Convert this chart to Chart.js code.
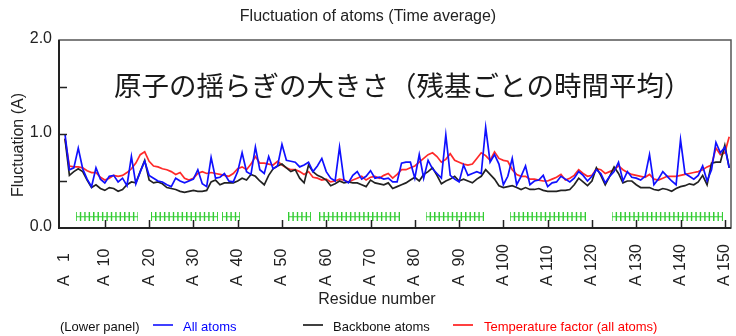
<!DOCTYPE html>
<html>
<head>
<meta charset="utf-8">
<script src="https://cdn.jsdelivr.net/npm/chart.js@4"></script>
<style>
  html, body { margin: 0; padding: 0; background: #fff; }
  canvas { display: block; }
</style>
</head>
<body>
<canvas id="myChart" width="736" height="336"></canvas>
<script>
// residue numbers 1..151 (chain A)
const residues = Array.from({ length: 151 }, (_, i) => i + 1);
const tickResidues = [1, 10, 20, 30, 40, 50, 60, 70, 80, 90, 100, 110, 120, 130, 140, 150];
const yTickLabels = [0, 1, 2];

const allAtoms = [
  1.00, 0.62, 0.64, 0.85, 0.63, 0.52, 0.44, 0.64, 0.52, 0.48,
  0.55, 0.56, 0.49, 0.53, 0.45, 0.76, 0.47, 0.60, 0.71, 0.56,
  0.53, 0.50, 0.49, 0.46, 0.44, 0.53, 0.50, 0.48, 0.50, 0.52,
  0.62, 0.47, 0.44, 0.75, 0.53, 0.54, 0.58, 0.50, 0.49, 0.60,
  0.80, 0.60, 0.57, 0.86, 0.62, 0.58, 0.76, 0.63, 0.66, 0.89,
  0.72, 0.71, 0.70, 0.65, 0.67, 0.70, 0.60, 0.66, 0.74, 0.60,
  0.53, 0.50, 0.86, 0.51, 0.48, 0.56, 0.60, 0.52, 0.55, 0.61,
  0.53, 0.54, 0.52, 0.53, 0.49, 0.49, 0.69, 0.70, 0.70, 0.53,
  0.78, 0.53, 0.72, 0.63, 0.58, 0.53, 0.99, 0.56, 0.52, 0.49,
  0.67, 0.56, 0.58, 0.60, 0.58, 1.07, 0.70, 0.78, 0.68, 0.46,
  0.55, 0.74, 0.46, 0.55, 0.66, 0.46, 0.50, 0.51, 0.56, 0.44,
  0.48, 0.49, 0.55, 0.52, 0.49, 0.53, 0.60, 0.56, 0.50, 0.55,
  0.62, 0.58, 0.48, 0.55, 0.60, 0.70, 0.50, 0.60, 0.54, 0.53,
  0.51, 0.55, 0.78, 0.46, 0.52, 0.60, 0.55, 0.50, 0.46, 0.94,
  0.58, 0.55, 0.52, 0.56, 0.66, 0.50, 0.62, 0.91, 0.80, 0.86,
  0.64
];

const backbone = [
  0.95, 0.56, 0.60, 0.63, 0.60, 0.51, 0.43, 0.46, 0.42, 0.40,
  0.43, 0.42, 0.39, 0.41, 0.46, 0.49, 0.48, 0.60, 0.72, 0.51,
  0.48, 0.49, 0.47, 0.43, 0.42, 0.41, 0.39, 0.38, 0.39, 0.40,
  0.39, 0.39, 0.40, 0.49, 0.51, 0.46, 0.48, 0.48, 0.48, 0.50,
  0.53, 0.51, 0.57, 0.55, 0.50, 0.46, 0.56, 0.63, 0.66, 0.68,
  0.64, 0.60, 0.62, 0.53, 0.48, 0.67, 0.60, 0.56, 0.54, 0.51,
  0.45, 0.47, 0.50, 0.48, 0.49, 0.48, 0.48, 0.46, 0.44, 0.51,
  0.48, 0.47, 0.46, 0.48, 0.42, 0.44, 0.46, 0.48, 0.51, 0.54,
  0.50, 0.57, 0.60, 0.64, 0.56, 0.47, 0.50, 0.52, 0.55, 0.50,
  0.52, 0.50, 0.48, 0.52, 0.55, 0.62, 0.57, 0.52, 0.45, 0.43,
  0.44, 0.45, 0.43, 0.41, 0.43, 0.41, 0.41, 0.42, 0.40, 0.39,
  0.39, 0.39, 0.40, 0.40, 0.41, 0.46, 0.53, 0.49, 0.45, 0.50,
  0.64, 0.56, 0.46, 0.55, 0.65, 0.58, 0.48, 0.50, 0.50, 0.46,
  0.43, 0.43, 0.43, 0.41, 0.40, 0.42, 0.41, 0.39, 0.42, 0.44,
  0.45, 0.47, 0.46, 0.49, 0.56, 0.46, 0.69, 0.70, 0.70, 0.88,
  0.64
];

const tempFactor = [
  0.95, 0.66, 0.65, 0.65, 0.64, 0.61, 0.59, 0.59, 0.54, 0.51,
  0.53, 0.56, 0.55, 0.56, 0.59, 0.63, 0.69, 0.78, 0.81, 0.71,
  0.66, 0.65, 0.63, 0.62, 0.60, 0.57, 0.59, 0.53, 0.51, 0.53,
  0.58, 0.60, 0.58, 0.59, 0.58, 0.57, 0.56, 0.55, 0.58, 0.63,
  0.65, 0.62, 0.68, 0.76, 0.69, 0.69, 0.68, 0.67, 0.71, 0.67,
  0.64, 0.62, 0.62, 0.60, 0.57, 0.60, 0.54, 0.53, 0.51, 0.52,
  0.49, 0.50, 0.52, 0.51, 0.49, 0.51, 0.53, 0.55, 0.51, 0.54,
  0.55, 0.53, 0.56, 0.58, 0.53, 0.57, 0.62, 0.62, 0.64, 0.66,
  0.70, 0.74, 0.78, 0.80, 0.76, 0.70, 0.73, 0.79, 0.72, 0.70,
  0.68, 0.67, 0.68, 0.74, 0.80, 0.77, 0.72, 0.81, 0.74, 0.72,
  0.71, 0.62, 0.57, 0.55, 0.55, 0.52, 0.52, 0.51, 0.50, 0.50,
  0.52, 0.54, 0.57, 0.51, 0.53, 0.56, 0.62, 0.58, 0.55, 0.56,
  0.63, 0.62, 0.58, 0.60, 0.62, 0.66, 0.62, 0.59, 0.57, 0.56,
  0.55, 0.54, 0.57, 0.52, 0.51, 0.53, 0.55, 0.55, 0.55, 0.56,
  0.57, 0.58, 0.59, 0.60, 0.62, 0.65, 0.67, 0.85, 0.78, 0.80,
  0.97
];

// helix segments (green marks) and the level they sit at
const helixRanges = [[4, 17], [21, 35], [37, 40], [52, 56], [59, 76], [83, 95], [102, 118], [125, 149]];
const helixLevel = 0.12;

const helixPoints = [];
helixRanges.forEach(([a, b]) => {
  for (let r = a; r <= b; r++) helixPoints.push({ x: r, y: helixLevel });
});

// little green "H" used as point style
const hMark = document.createElement('canvas');
hMark.width = 5; hMark.height = 9;
{
  const c = hMark.getContext('2d');
  c.strokeStyle = '#3c3';
  c.lineWidth = 1;
  c.beginPath();
  c.moveTo(0.5, 0); c.lineTo(0.5, 9);
  c.moveTo(4.5, 0); c.lineTo(4.5, 9);
  c.moveTo(0, 4.5); c.lineTo(5, 4.5);
  c.stroke();
}

const toXY = arr => residues.map((r, i) => ({ x: r, y: arr[i] }));
const SANS = '"Liberation Sans", Arial, sans-serif';

const decor = {
  id: 'decor',
  beforeDraw(chart) {
    const ctx = chart.ctx;
    ctx.save();
    ctx.fillStyle = '#fff';
    ctx.fillRect(0, 0, chart.width, chart.height);
    ctx.restore();
  },
  afterDraw(chart) {
    const { ctx, chartArea: a, scales: { x, y } } = chart;
    ctx.save();

    // frame
    ctx.strokeStyle = '#555';
    ctx.lineWidth = 1.5;
    ctx.strokeRect(a.left, a.top, a.right - a.left, a.bottom - a.top);
    ctx.strokeStyle = '#222';
    ctx.lineWidth = 2;
    ctx.beginPath();
    ctx.moveTo(a.left, a.top); ctx.lineTo(a.left, a.bottom); ctx.lineTo(a.right, a.bottom);
    ctx.stroke();

    // inward ticks
    ctx.lineWidth = 1.5;
    ctx.beginPath();
    [0.5, 1, 1.5].forEach(v => {
      const py = Math.round(y.getPixelForValue(v)) + 0.5;
      ctx.moveTo(a.left, py); ctx.lineTo(a.left + 8, py);
    });
    tickResidues.filter(t => t !== 1).forEach(t => {
      const px = Math.round(x.getPixelForValue(t)) + 0.5;
      ctx.moveTo(px, a.bottom); ctx.lineTo(px, a.bottom - 8);
    });
    ctx.stroke();

    // y tick labels
    ctx.fillStyle = '#222';
    ctx.font = '16px ' + SANS;
    ctx.textAlign = 'right';
    ctx.textBaseline = 'middle';
    yTickLabels.forEach(v => ctx.fillText(v.toFixed(1), 52, y.getPixelForValue(v) - 1));

    // x tick labels, rotated, reading upward
    tickResidues.forEach(t => {
      const label = 'A ' + String(t).padStart(3, ' ');
      ctx.save();
      ctx.translate(x.getPixelForValue(t), 286);
      ctx.rotate(-Math.PI / 2);
      ctx.textAlign = 'left';
      ctx.textBaseline = 'middle';
      ctx.fillText(label, 0, 0);
      ctx.restore();
    });

    // titles
    ctx.textAlign = 'center';
    ctx.textBaseline = 'middle';
    ctx.fillText('Fluctuation of atoms (Time average)', 368, 17);
    ctx.fillText('Residue number', 377, 300);
    ctx.save();
    ctx.translate(19, 145);
    ctx.rotate(-Math.PI / 2);
    ctx.fillText('Fluctuation (A)', 0, 0);
    ctx.restore();

    // overlay caption
    ctx.font = '27.5px "Noto Sans CJK JP", sans-serif';
    ctx.textAlign = 'left';
    ctx.fillStyle = '#1a1a1a';
    ctx.fillText('原子の揺らぎの大きさ（残基ごとの時間平均）', 114, 86);

    // legend row
    ctx.font = '13px ' + SANS;
    ctx.textBaseline = 'middle';
    const ly = 327;
    ctx.fillStyle = '#111';
    ctx.fillText('(Lower panel)', 60, ly);
    const items = [
      { x1: 153, x2: 173, tx: 183, color: '#0000ff', text: 'All atoms' },
      { x1: 303, x2: 323, tx: 333, color: '#000000', text: 'Backbone atoms' },
      { x1: 453, x2: 473, tx: 484, color: '#ff0000', text: 'Temperature factor (all atoms)' }
    ];
    items.forEach(it => {
      ctx.strokeStyle = it.color;
      ctx.lineWidth = 1.5;
      ctx.beginPath();
      ctx.moveTo(it.x1, ly - 2); ctx.lineTo(it.x2, ly - 2);
      ctx.stroke();
      ctx.fillStyle = it.text === 'Backbone atoms' ? '#111' : it.color;
      ctx.fillText(it.text, it.tx, ly);
    });

    ctx.restore();
  }
};

new Chart(document.getElementById('myChart'), {
  type: 'line',
  data: {
    datasets: [
      {
        label: 'Helix',
        data: helixPoints,
        showLine: false,
        pointStyle: hMark,
        pointRadius: 3,
        borderColor: '#3c3',
        backgroundColor: '#3c3'
      },
      {
        label: 'All atoms',
        data: toXY(allAtoms),
        borderColor: '#1010ff',
        borderWidth: 1.7,
        pointRadius: 0,
        tension: 0
      },
      {
        label: 'Backbone atoms',
        data: toXY(backbone),
        borderColor: '#222',
        borderWidth: 1.7,
        pointRadius: 0,
        tension: 0
      },
      {
        label: 'Temperature factor (all atoms)',
        data: toXY(tempFactor),
        borderColor: '#ff2a2a',
        borderWidth: 1.7,
        pointRadius: 0,
        tension: 0
      }
    ]
  },
  options: {
    responsive: false,
    devicePixelRatio: 1,
    animation: false,
    layout: { padding: { left: 59, top: 40, right: 3, bottom: 108 } },
    scales: {
      x: { type: 'linear', min: -0.35, max: 151.4, display: false },
      y: { min: 0, max: 2, display: false }
    },
    plugins: {
      legend: { display: false },
      title: { display: false },
      tooltip: { enabled: false }
    }
  },
  plugins: [decor]
});
</script>
</body>
</html>
